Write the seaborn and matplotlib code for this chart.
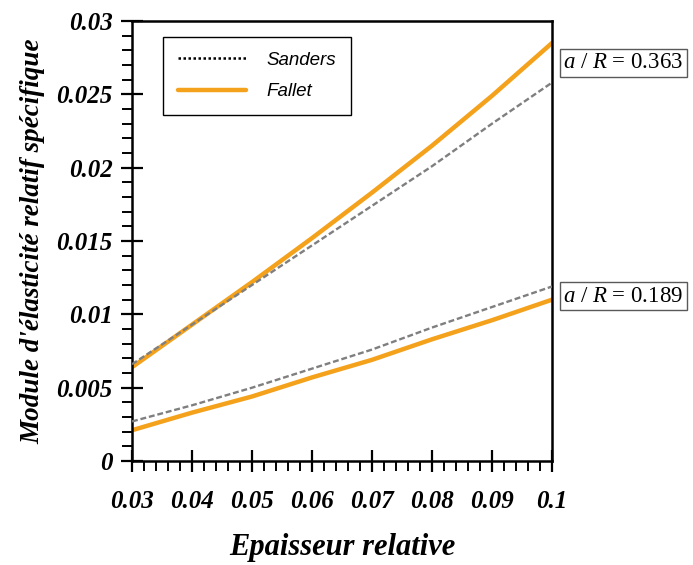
import numpy as np
import pandas as pd
import seaborn as sns
import matplotlib.pyplot as plt
from matplotlib.lines import Line2D
from matplotlib.ticker import MultipleLocator, FuncFormatter

# epaisseur relative
eps = [0.03, 0.04, 0.05, 0.06, 0.07, 0.08, 0.09, 0.1]

# a/R = 0.363
sanders_363 = [0.0066, 0.0093, 0.0120, 0.0147, 0.0174, 0.0201, 0.0230, 0.0258]
fallet_363 = [0.0064, 0.0093, 0.0122, 0.0152, 0.0183, 0.0215, 0.0249, 0.0285]

# a/R = 0.189
sanders_189 = [0.0027, 0.0038, 0.0050, 0.0063, 0.0076, 0.0091, 0.0105, 0.0119]
fallet_189 = [0.0021, 0.0033, 0.0044, 0.0057, 0.0069, 0.0083, 0.0096, 0.0110]

ratio_labels = ["$a$ / $R$ = 0.363", "$a$ / $R$ = 0.189"]

sns.set_theme(style="white")
plt.rcParams["font.family"] = ["Liberation Serif", "DejaVu Serif"]
plt.rcParams["mathtext.fontset"] = "custom"
plt.rcParams["mathtext.rm"] = "Liberation Serif"
plt.rcParams["mathtext.it"] = "Liberation Serif:italic"
plt.rcParams["text.color"] = "black"
plt.rcParams["axes.labelcolor"] = "black"
plt.rcParams["xtick.color"] = "black"
plt.rcParams["ytick.color"] = "black"

orange = "#F4A11C"
grey = "#7F7F7F"

fig = plt.figure(figsize=(6.93, 5.65), dpi=100)
ax = fig.add_axes([0.1905, 0.184, 0.606, 0.7788])

for vals in [sanders_363, sanders_189]:
    sns.lineplot(x=eps, y=vals, ax=ax, color=grey, lw=1.7, zorder=3)
for vals in [fallet_363, fallet_189]:
    sns.lineplot(x=eps, y=vals, ax=ax, color=orange, lw=3.2, zorder=2)
for line in ax.lines[:2]:
    line.set_dashes((2.5, 1.2))

ax.set_xlim(0.03, 0.1)
ax.set_ylim(0, 0.03)
ax.xaxis.set_major_locator(MultipleLocator(0.01))
ax.xaxis.set_minor_locator(MultipleLocator(0.002))
ax.yaxis.set_major_locator(MultipleLocator(0.005))
ax.yaxis.set_minor_locator(MultipleLocator(0.001))
fmt = FuncFormatter(lambda v, p: "%g" % round(v, 4))
ax.xaxis.set_major_formatter(fmt)
ax.yaxis.set_major_formatter(fmt)

ax.tick_params(which="major", direction="inout", length=16, width=1.6, colors="black",
               bottom=True, left=True, top=False, right=False)
ax.tick_params(which="minor", direction="out", length=7, width=1.4, colors="black",
               bottom=True, left=True, top=False, right=False)
ax.tick_params(axis="x", which="major", pad=13)
ax.tick_params(axis="y", which="major", pad=6)
for lab in ax.get_xticklabels() + ax.get_yticklabels():
    lab.set_fontsize(18)
    lab.set_fontweight("bold")
    lab.set_fontstyle("italic")

for s in ax.spines.values():
    s.set_color("black")
    s.set_linewidth(1.8)

ax.set_xlabel("Epaisseur relative", fontsize=22, fontweight="bold", fontstyle="italic", labelpad=14)
ax.set_ylabel("Module d'élasticité relatif spécifique", fontsize=19.5, fontweight="bold",
              fontstyle="italic", labelpad=8)

handles = [Line2D([], [], color="black", lw=1.8, ls=(0, (1, 1))),
           Line2D([], [], color=orange, lw=3.2)]
leg = ax.legend(handles, ["Sanders", "Fallet"], loc="upper left", bbox_to_anchor=(0.074, 0.964),
                borderaxespad=0, frameon=True, fancybox=False, handlelength=3.6,
                labelspacing=0.75, borderpad=0.8, handletextpad=1.1,
                prop={"family": "Liberation Sans", "style": "italic", "size": 13.5})
leg.get_frame().set_edgecolor("black")
leg.get_frame().set_linewidth(1.0)
leg.get_frame().set_alpha(1)

for lab, yy in zip(ratio_labels, [0.905, 0.375]):
    ax.text(1.027, yy, lab, transform=ax.transAxes, fontsize=16.5, va="center", ha="left",
            bbox=dict(boxstyle="square,pad=0.15", fc="white", ec="0.35", lw=1.0))

fig.savefig("out.png", dpi=100)
